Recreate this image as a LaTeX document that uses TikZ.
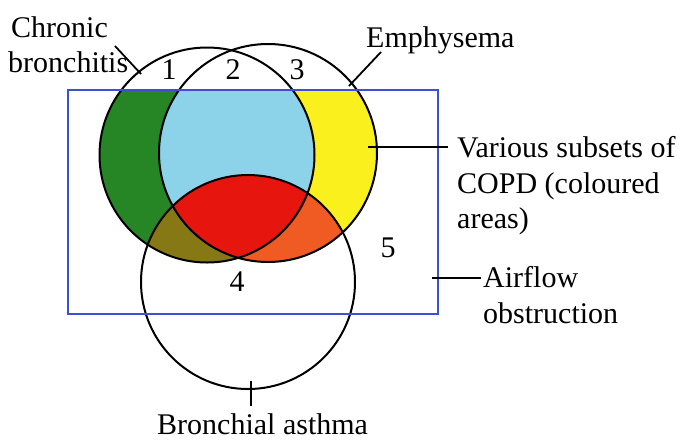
\documentclass[tikz,border=0pt]{standalone}
\usepackage{fontspec}
\setmainfont{Liberation Serif}
\definecolor{cbgreen}{RGB}{38,134,38}
\definecolor{cbblue}{RGB}{140,210,232}
\definecolor{cbyellow}{RGB}{250,240,30}
\definecolor{cbred}{RGB}{230,22,15}
\definecolor{cbolive}{RGB}{135,120,22}
\definecolor{cborange}{RGB}{240,90,35}
\definecolor{rectblue}{RGB}{60,80,210}
\tikzset{
  lbl/.style={inner sep=0pt, anchor=base west, font=\fontsize{30}{36}\selectfont},
  num/.style={inner sep=0pt, font=\fontsize{30}{36}\selectfont},
  ring/.style={draw=black, line width=2pt},
  leader/.style={draw=black, line width=1.8pt},
  obstr/.style={draw=rectblue, line width=1.4pt}
}
\begin{document}
\begin{tikzpicture}[x=1pt,y=-1pt]
\useasboundingbox (0,0) rectangle (690,440);
\fill[white] (0,0) rectangle (690,440);
% centres
\coordinate (L) at (207,155);
\coordinate (R) at (268,153);
\coordinate (A) at (248,282);
\coordinate (rectNW) at (68,90);
\coordinate (rectSE) at (438,314);
\def\rL{107.5pt}
\def\rR{109pt}
\def\rA{107pt}
% coloured regions
\begin{scope}
  \clip (rectNW) rectangle (rectSE);
  \fill[cbgreen] (L) circle[radius=\rL];
  \fill[cbyellow] (R) circle[radius=\rR];
  \begin{scope}
    \clip (L) circle[radius=\rL];
    \fill[cbblue] (R) circle[radius=\rR];
    \fill[cbolive] (A) circle[radius=\rA];
  \end{scope}
  \begin{scope}
    \clip (R) circle[radius=\rR];
    \fill[cborange] (A) circle[radius=\rA];
    \clip (L) circle[radius=\rL];
    \fill[cbred] (A) circle[radius=\rA];
  \end{scope}
\end{scope}
% circles
\draw[ring] (L) circle[radius=\rL];
\draw[ring] (R) circle[radius=\rR];
\draw[ring] (A) circle[radius=\rA];
% airflow obstruction rectangle
\draw[obstr] (rectNW) rectangle (rectSE);
% region numbers
\node[num] (n1) at (169,70) {1};
\node[num] (n2) at (233,70) {2};
\node[num] (n3) at (297,70) {3};
\node[num] (n4) at (237,282) {4};
\node[num] (n5) at (388,248) {5};
% labels
\node[lbl] (cb1) at (11,37) {Chronic};
\node[lbl] (cb2) at (8,72) {bronchitis};
\node[lbl] (emph) at (366,47) {Emphysema};
\node[lbl] (var1) at (457,157) {Various subsets of};
\node[lbl] (var2) at (457,193) {COPD (coloured};
\node[lbl] (var3) at (457,228) {areas)};
\node[lbl] (air1) at (483,287) {Airflow};
\node[lbl] (air2) at (483,323) {obstruction};
\node[lbl] (asth) at (157,434) {Bronchial asthma};
% leader end points
\coordinate (cbS) at (115,46);
\coordinate (cbE) at (141,74);
\coordinate (emS) at (381,52);
\coordinate (emE) at (349,86);
\coordinate (varS) at (368,147);
\coordinate (varE) at (448,147);
\coordinate (airS) at (432,278);
\coordinate (airE) at (481,278);
\coordinate (asS) at (251,381);
\coordinate (asE) at (251,406);
\draw[leader] (cbS) -- (cbE);
\draw[leader] (emS) -- (emE);
\draw[leader] (varS) -- (varE);
\draw[leader] (airS) -- (airE);
\draw[leader] (asS) -- (asE);
\end{tikzpicture}
\end{document}
